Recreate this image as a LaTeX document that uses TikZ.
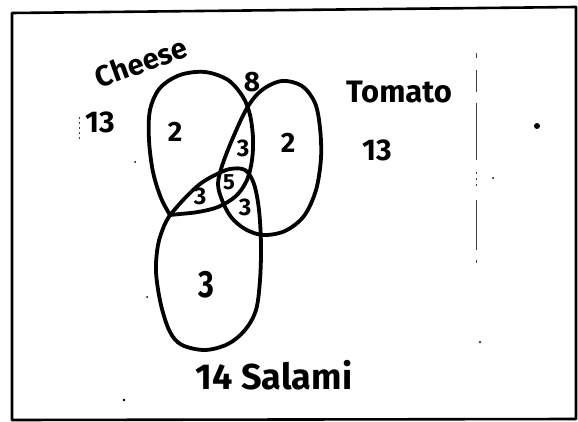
\documentclass[tikz,border=0pt]{standalone}
\usepackage{fontspec}
\setmainfont{Fira Sans}
\begin{document}
\begin{tikzpicture}[x=1pt,y=-1pt,
  curve/.style={line width=3.8pt, line join=round, line cap=round},
  hand/.style={font=\bfseries\fontsize{#1}{#1}\selectfont, inner sep=0pt, text=black},
  frame/.style={line width=2.6pt, line join=round},
  speck/.style={fill=black},
  faint/.style={line width=0.8pt, black!75}]
\useasboundingbox (0,0) rectangle (578,422);
\fill[white] (0,0) rectangle (578,422);
% frame
\draw[frame] (12,13) -- (576,7) -- (576,419) -- (12,420) -- cycle;
% faint marks
\draw[faint] (476,53) -- (476,58) (476,70) -- (476,92) (476,103) -- (476,160)
  (476,200) -- (476,250) (476,260) -- (476,263);
\draw[faint, dash pattern=on 2pt off 4pt] (476,172) -- (476,190);
\draw[faint, dash pattern=on 2pt off 3pt] (79,117) -- (79,140);
\fill[speck] (537,126) circle (3);
\fill[speck] (493,178) circle (1);
\fill[speck] (480,342) circle (1.2);
\fill[speck] (124,400) circle (1.4);
\fill[speck] (135,162) circle (1);
\fill[speck] (147,297) circle (1);
% Cheese
\draw[curve] plot[smooth, tension=0.55] coordinates {(170,215) (161,198) (153,172) (149,140) (150,110) (160,88) (180,75) (205,72) (228,80) (243,97) (250,115) (253,138) (252,160) (247,180) (236,196) (218,207) (198,212) (180,214) (170,215)};
% Tomato
\draw[curve] plot[smooth cycle, tension=0.55] coordinates {(247,108) (262,90) (282,81) (302,86) (315,103) (320,128) (321,158) (316,190) (304,216) (285,231) (263,235) (245,229) (231,217) (222,200) (218,184) (222,166) (232,140)};
% Salami
\draw[curve] plot[smooth, tension=0.55] coordinates {(170,215) (185,198) (200,184) (215,175) (230,169) (245,170) (254,184) (259,210) (261,245) (260,280) (256,310) (245,330) (228,344) (205,350) (182,345) (170,332) (161,305) (156,272) (158,245) (164,226) (170,215)};
% labels
\node[hand=29, rotate=20] (cheese) at (141,62) {Cheese};
\node[hand=30] (ctot) at (100,122) {13};
\node[hand=31] (tomato) at (399,92) {Tomato};
\node[hand=30] (ttot) at (377,150) {13};
\node[hand=36] (salami) at (274,375) {14 Salami};
\node[hand=28] (none) at (252,82) {8};
\node[hand=28] (conly) at (175,132) {2};
\node[hand=28] (tonly) at (288,143) {2};
\node[hand=24] (ct) at (243,148) {3};
\node[hand=22] (cts) at (229,182) {5};
\node[hand=24] (cs) at (200,196) {3};
\node[hand=24] (ts) at (245,207) {3};
\node[hand=38, xscale=0.8] (sonly) at (206,285) {3};
\end{tikzpicture}
\end{document}
